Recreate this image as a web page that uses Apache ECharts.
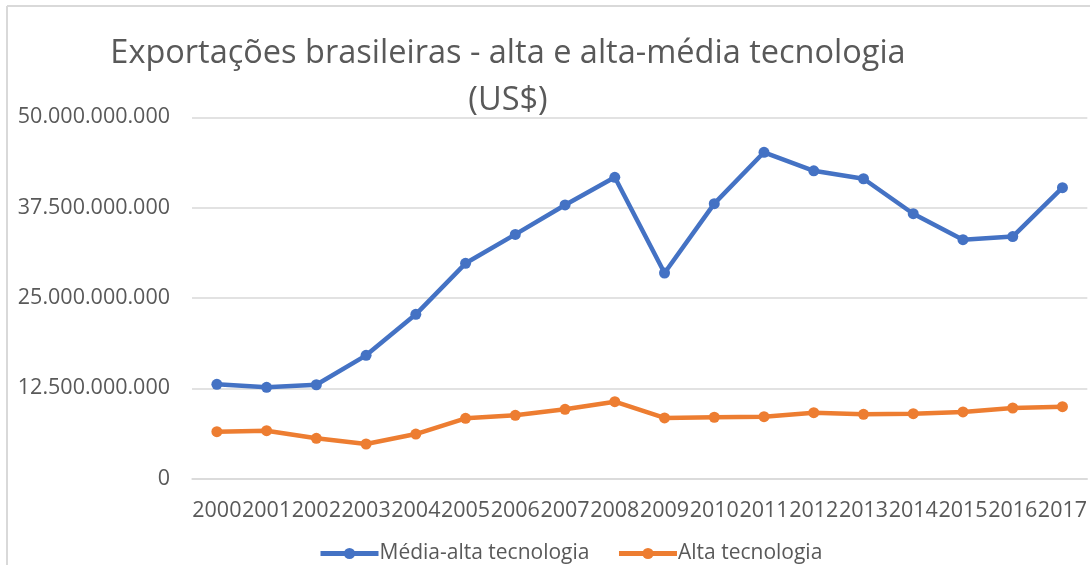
<!DOCTYPE html>
<html>
<head>
<meta charset="utf-8">
<script src="https://cdn.jsdelivr.net/npm/echarts@6/dist/echarts.min.js"></script>
<style>
html,body{margin:0;padding:0;background:#fff;}
#chart{width:1090px;height:565px;}
</style>
</head>
<body>
<div id="chart"></div>
<script>
const years = ['2000','2001','2002','2003','2004','2005','2006','2007','2008','2009','2010','2011','2012','2013','2014','2015','2016','2017'];
const mediaAlta = [13.06e9, 12.65e9, 13.0e9, 17.07e9, 22.74e9, 29.8e9, 33.8e9, 37.87e9, 41.7e9, 28.46e9, 38.05e9, 45.16e9, 42.6e9, 41.5e9, 36.66e9, 33.07e9, 33.5e9, 40.26e9];
const alta = [6.5e9, 6.64e9, 5.59e9, 4.8e9, 6.18e9, 8.36e9, 8.77e9, 9.6e9, 10.65e9, 8.4e9, 8.5e9, 8.58e9, 9.13e9, 8.9e9, 9.0e9, 9.23e9, 9.78e9, 9.96e9];
const seriesNames = ['Média-alta tecnologia', 'Alta tecnologia'];
const titleText = 'Exportações brasileiras - alta e alta-média tecnologia\n(US$)';

function fmt(v) {
  return String(Math.round(v)).replace(/\B(?=(\d{3})+(?!\d))/g, '.');
}

const chart = echarts.init(document.getElementById('chart'), null, {renderer: 'canvas'});
const font = 'Open Sans';
chart.setOption({
  animation: false,
  backgroundColor: '#fff',
  title: {
    text: titleText,
    left: 503,
    textAlign: 'center',
    top: 25,
    textStyle: {fontFamily: font, fontSize: 32.5, fontWeight: 'normal', color: '#595959', lineHeight: 47}
  },
  graphic: [
    {type: 'line', shape: {x1: 7, y1: 6, x2: 1100, y2: 6}, style: {stroke: '#d9d9d9', lineWidth: 2}, silent: true},
    {type: 'line', shape: {x1: 7, y1: 6, x2: 7, y2: 600}, style: {stroke: '#d9d9d9', lineWidth: 2}, silent: true}
  ],
  legend: {
    data: seriesNames,
    top: 538,
    left: 313,
    itemWidth: 58,
    itemHeight: 14,
    itemGap: 27,
    lineStyle: {width: 5},
    itemStyle: {},
    textStyle: {fontFamily: font, fontSize: 21, color: '#595959', padding: [0,0,0,-4]}
  },
  grid: {left: 192, right: 1, top: 117.3, bottom: 86.3, containLabel: false},
  xAxis: {
    type: 'category',
    data: years,
    boundaryGap: true,
    axisLine: {show: true, lineStyle: {color: '#d9d9d9', width: 1.5}},
    axisTick: {show: false},
    axisLabel: {interval: 0, fontFamily: font, fontSize: 21.5, color: '#595959', margin: 21}
  },
  yAxis: {
    type: 'value',
    min: 0,
    max: 50e9,
    interval: 12.5e9,
    axisLine: {show: false},
    axisTick: {show: false},
    splitLine: {lineStyle: {color: '#d9d9d9', width: 1.5}},
    axisLabel: {fontFamily: font, fontSize: 21.5, color: '#595959', margin: 22, formatter: fmt}
  },
  series: [
    {
      name: seriesNames[0],
      type: 'line',
      data: mediaAlta,
      color: '#4472C4',
      symbol: 'circle',
      symbolSize: 11,
      lineStyle: {width: 4.5, color: '#4472C4'},
      itemStyle: {color: '#4472C4'}
    },
    {
      name: seriesNames[1],
      type: 'line',
      data: alta,
      color: '#ED7D31',
      symbol: 'circle',
      symbolSize: 11,
      lineStyle: {width: 4.5, color: '#ED7D31'},
      itemStyle: {color: '#ED7D31'}
    }
  ]
});
</script>
</body>
</html>
